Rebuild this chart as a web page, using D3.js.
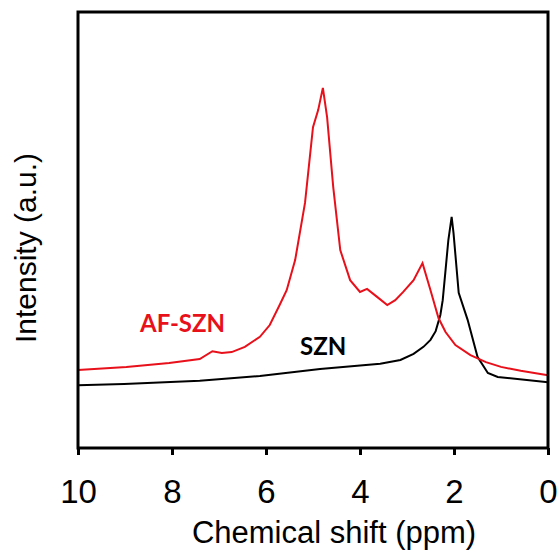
<!DOCTYPE html>
<html>
<head>
<meta charset="utf-8">
<script src="https://cdn.jsdelivr.net/npm/d3@7"></script>
<style>
  body { margin: 0; background: #fff; }
  svg { display: block; }
</style>
</head>
<body>
<div id="vis-container"></div>
<script>
// spectra: chemical shift (ppm) and intensity (a.u.)
const afPpm = [10.0, 8.97, 8.06, 7.41, 7.14, 6.94, 6.73, 6.45, 6.13, 5.92, 5.71, 5.56, 5.38, 5.17, 5.00, 4.89, 4.79, 4.70, 4.57, 4.42, 4.21, 4.00, 3.85, 3.63, 3.42, 3.25, 3.08, 2.86, 2.67, 2.50, 2.33, 2.18, 1.97, 1.65, 1.32, 1.00, 0.58, 0.0];
const afInt = [0.179, 0.186, 0.195, 0.204, 0.222, 0.218, 0.220, 0.232, 0.255, 0.282, 0.328, 0.362, 0.431, 0.562, 0.736, 0.775, 0.826, 0.759, 0.599, 0.454, 0.385, 0.358, 0.365, 0.346, 0.328, 0.339, 0.358, 0.385, 0.424, 0.362, 0.298, 0.266, 0.236, 0.213, 0.197, 0.186, 0.177, 0.167];

const sznPpm = [10.0, 9.02, 7.41, 6.13, 4.85, 3.57, 3.14, 2.86, 2.65, 2.50, 2.39, 2.29, 2.24, 2.18, 2.12, 2.05, 2.01, 1.90, 1.71, 1.50, 1.28, 1.07, 0.0];
const sznInt = [0.144, 0.147, 0.154, 0.165, 0.181, 0.193, 0.202, 0.216, 0.232, 0.248, 0.268, 0.305, 0.339, 0.408, 0.477, 0.530, 0.493, 0.356, 0.294, 0.209, 0.172, 0.163, 0.151];

const xTicks = [10, 8, 6, 4, 2, 0];

const width = 559;
const height = 553;
const margin = { top: 12, right: 11, bottom: 105, left: 78 };

const svg = d3.select("#vis-container")
              .append("svg")
              .attr("width", width)
              .attr("height", height);

const x = d3.scaleLinear()
            .domain([10, 0])
            .range([margin.left, width - margin.right]);

const y = d3.scaleLinear()
            .domain([0, 1])
            .range([height - margin.bottom, margin.top]);

const afData = afPpm.map((p, i) => ({ ppm: p, val: afInt[i] }));
const sznData = sznPpm.map((p, i) => ({ ppm: p, val: sznInt[i] }));

const line = d3.line()
               .x(d => x(d.ppm))
               .y(d => y(d.val));

// curves
svg.append("path")
   .datum(sznData)
   .attr("d", line)
   .attr("fill", "none")
   .attr("stroke", "#000")
   .attr("stroke-width", 2);

svg.append("path")
   .datum(afData)
   .attr("d", line)
   .attr("fill", "none")
   .attr("stroke", "#e8101a")
   .attr("stroke-width", 2);

// frame
svg.append("rect")
   .attr("x", margin.left)
   .attr("y", margin.top)
   .attr("width", width - margin.left - margin.right)
   .attr("height", height - margin.top - margin.bottom)
   .attr("fill", "none")
   .attr("stroke", "#000")
   .attr("stroke-width", 3);

// x axis
svg.append("g")
   .attr("transform", `translate(0,${height - margin.bottom})`)
   .call(d3.axisBottom(x).tickValues(xTicks).tickSize(7).tickPadding(25).tickSizeOuter(0))
   .call(g => g.select(".domain").remove())
   .call(g => g.selectAll("line").attr("stroke-width", 3))
   .call(g => g.selectAll("text")
               .attr("font-family", "'Liberation Sans', Arial, sans-serif")
               .attr("font-size", "33px")
               .attr("fill", "#000"));

svg.append("text")
   .attr("x", 334)
   .attr("y", 543)
   .attr("text-anchor", "middle")
   .attr("font-family", "'Liberation Sans', Arial, sans-serif")
   .attr("font-size", "31px")
   .text("Chemical shift (ppm)");

svg.append("text")
   .attr("transform", "rotate(-90)")
   .attr("x", -248)
   .attr("y", 36)
   .attr("text-anchor", "middle")
   .attr("font-family", "'Liberation Sans', Arial, sans-serif")
   .attr("font-size", "30px")
   .text("Intensity (a.u.)");

// series labels
svg.append("text")
   .attr("x", 140)
   .attr("y", 332)
   .attr("font-family", "Lato, 'Open Sans', sans-serif")
   .attr("font-weight", "bold")
   .attr("font-size", "24px")
   .attr("fill", "#e8101a")
   .text("AF-SZN");

svg.append("text")
   .attr("x", 300)
   .attr("y", 355)
   .attr("font-family", "Lato, 'Open Sans', sans-serif")
   .attr("font-weight", "bold")
   .attr("font-size", "24px")
   .attr("fill", "#000")
   .text("SZN");
</script>
</body>
</html>
